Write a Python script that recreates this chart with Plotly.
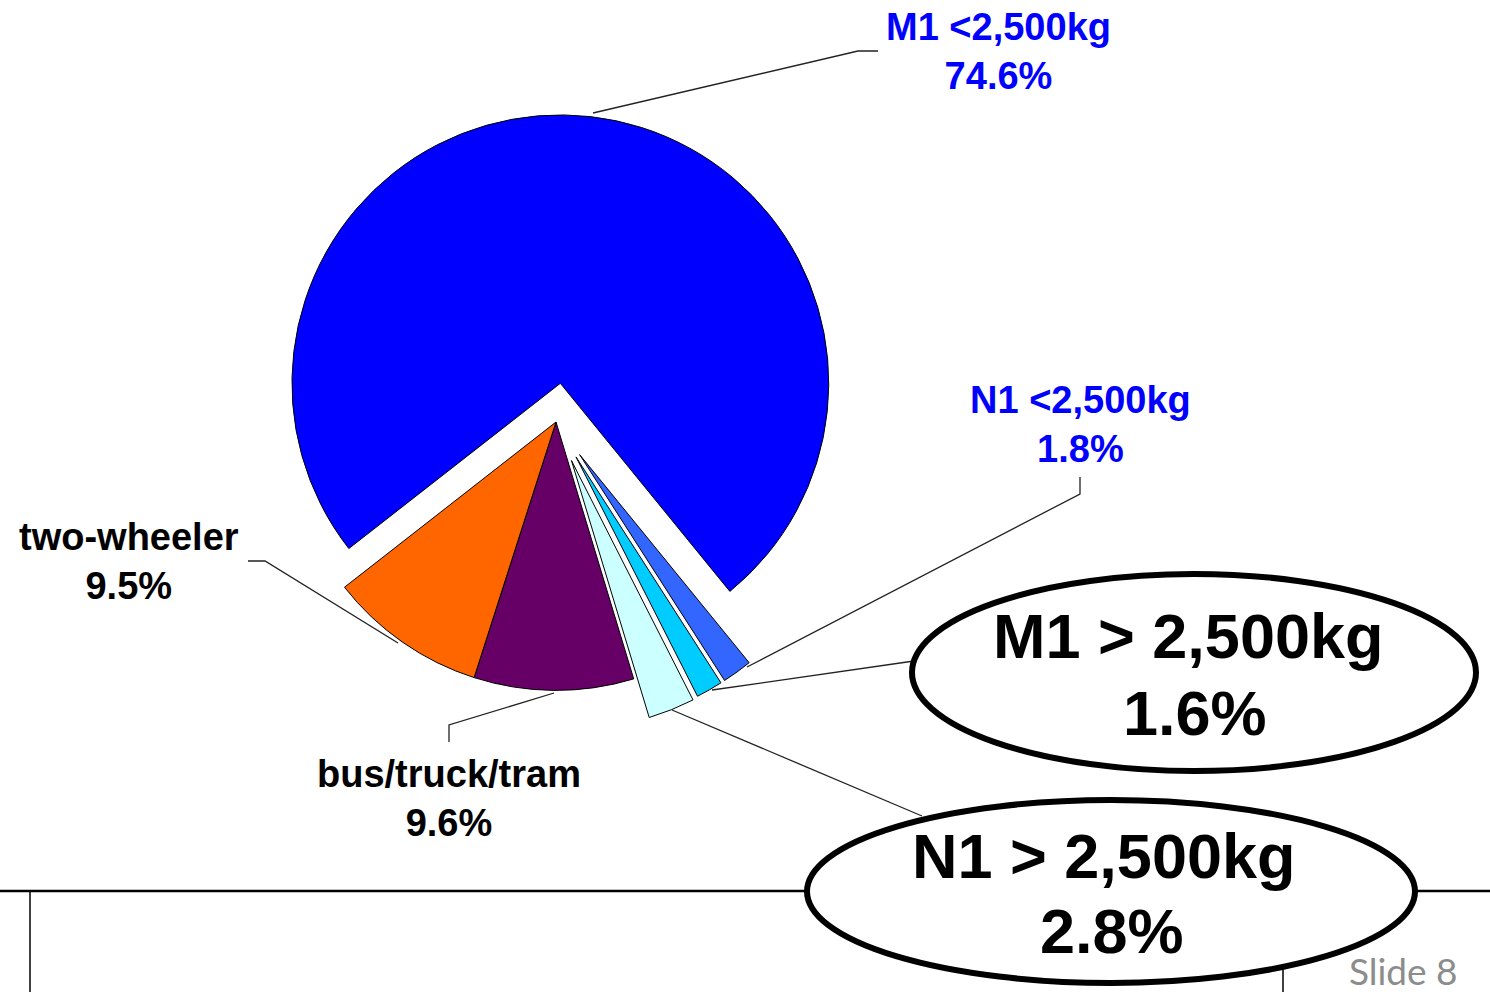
import plotly.graph_objects as go

# ---- data ----
categories = ["M1 <2,500kg", "N1 <2,500kg", "M1 > 2,500kg", "N1 > 2,500kg",
              "bus/truck/tram", "two-wheeler"]
shares = [74.6, 1.8, 1.6, 2.8, 9.6, 9.5]
slice_colors = ["#0000FF", "#3366FF", "#00CCFF", "#CCFFFF", "#660066", "#FF6600"]
pulls = [0.145, 0.15, 0.15, 0.155, 0.0, 0.0]

W, H = 1490, 992


def px(x):
    return x / W


def py(y):
    return 1 - y / H


# pie box (pixel geometry of the layout)
cx, cy, half = 556, 422, 310

fig = go.Figure()
fig.add_trace(go.Pie(
    labels=categories,
    values=shares,
    sort=False,
    direction="clockwise",
    rotation=232,
    pull=pulls,
    marker=dict(colors=slice_colors, line=dict(color="#000000", width=1)),
    textinfo="none",
    showlegend=False,
    domain=dict(x=[px(cx - half), px(cx + half)], y=[py(cy + half), py(cy - half)]),
))

shapes = []


def polyline(pts, width=1.3, color="#222222"):
    d = "M " + " L ".join(f"{px(x)},{py(y)}" for x, y in pts)
    shapes.append(dict(type="path", path=d, xref="paper", yref="paper",
                       line=dict(color=color, width=width), layer="above"))


# leader lines
polyline([(593, 113), (858, 51), (878, 51)])
polyline([(747, 667), (1080, 494), (1080, 477)])
polyline([(712, 690), (914, 661)])
polyline([(672, 710), (922, 816)])
polyline([(248, 561), (265, 561), (398, 643)])
polyline([(449, 742), (449, 725), (554, 693)])

# slide frame lines
polyline([(0, 891), (1490, 891)], width=2.5, color="#000000")
polyline([(30, 891), (30, 992)], width=1.5, color="#000000")
polyline([(1283, 950), (1283, 992)], width=1.5, color="#000000")

# ellipses
for (x0, y0, x1, y1) in [(912, 574, 1476, 771), (807, 800, 1415, 983)]:
    shapes.append(dict(type="circle", xref="paper", yref="paper",
                       x0=px(x0), x1=px(x1), y0=py(y1), y1=py(y0),
                       fillcolor="white", line=dict(color="black", width=6),
                       layer="above"))

annotations = []


def label(text, x, y, size, color):
    annotations.append(dict(text=text, x=px(x), y=py(y), xref="paper", yref="paper",
                            xanchor="center", yanchor="middle", showarrow=False,
                            font=dict(family="Liberation Sans, Arial", size=size,
                                      color=color)))


label(f"<b>{categories[0]}<br>{shares[0]}%</b>", 998, 52, 38, "#0000FF")
label(f"<b>{categories[1]}<br>{shares[1]}%</b>", 1080, 424, 38, "#0000FF")
label(f"<b>{categories[5]}<br>{shares[5]}%</b>", 129, 561, 38, "#000000")
label(f"<b>{categories[4]}<br>{shares[4]}%</b>", 449, 798, 38, "#000000")
label(f"<b>{categories[2]}</b>", 1188, 636, 63, "#000000")
label(f"<b>{shares[2]}%</b>", 1195, 713, 63, "#000000")
label(f"<b>{categories[3]}</b>", 1104, 856, 63, "#000000")
label(f"<b>{shares[3]}%</b>", 1112, 931, 63, "#000000")

annotations.append(dict(text="Slide 8", x=px(1460), y=py(970), xref="paper", yref="paper",
                        xanchor="right", yanchor="middle", showarrow=False,
                        font=dict(family="Lato", size=37, color="#8c8c8c")))

fig.update_layout(
    width=W, height=H,
    margin=dict(l=0, r=0, t=0, b=0),
    paper_bgcolor="white", plot_bgcolor="white",
    shapes=shapes, annotations=annotations,
)

fig.write_html("out.html", config={"displayModeBar": False},
               post_script="document.body.style.margin='0px';document.body.style.overflow='hidden';")
